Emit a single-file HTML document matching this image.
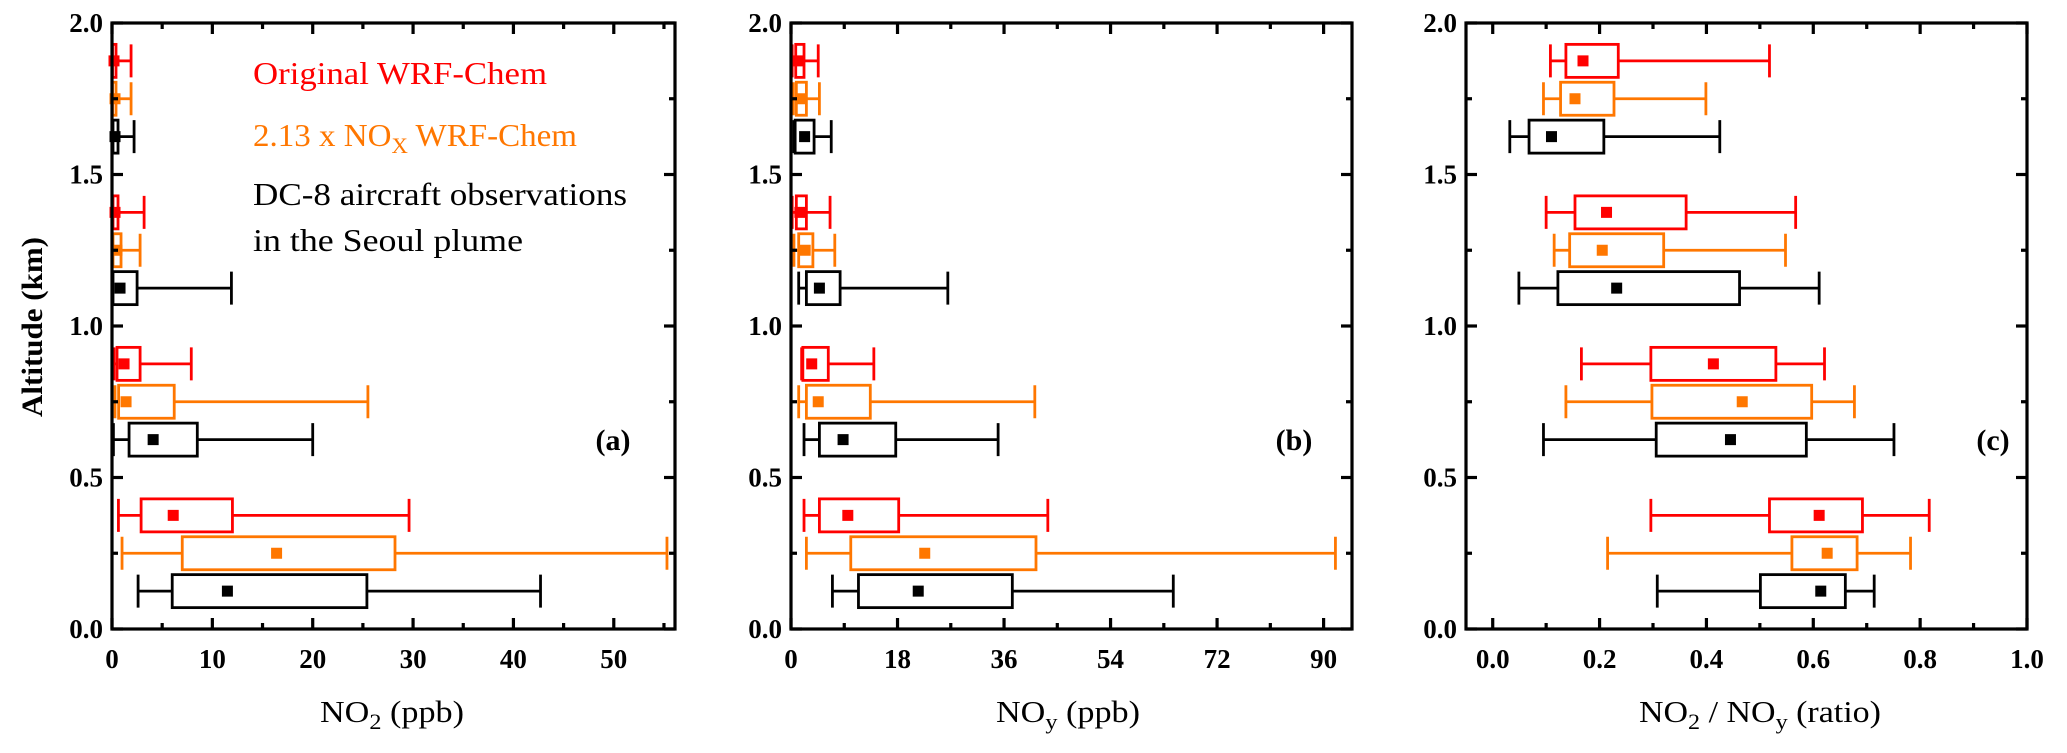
<!DOCTYPE html>
<html><head><meta charset="utf-8"><style>
body{margin:0;background:#fff}
svg{display:block;font-family:"Liberation Serif","DejaVu Serif",serif}
text{font-family:"Liberation Serif","DejaVu Serif",serif}
</style></head><body>
<svg id="chart" width="2067" height="753" font-family="Liberation Serif, serif" xmlns="http://www.w3.org/2000/svg"></svg>
<script>
// altitude positions of rows (km): red, orange, black per group
const altitudes = [1.875,1.75,1.625, 1.375,1.25,1.125, 0.875,0.75,0.625, 0.375,0.25,0.125];
const seriesOrder = ["red","orange","black","red","orange","black","red","orange","black","red","orange","black"];
// each stat: [whiskerLow, q1, mean, q3, whiskerHigh]
const no2Stats = [
 [0.0,0.05,0.2,0.4,1.9],[0.0,0.05,0.3,0.4,1.9],[0.0,0.1,0.3,0.6,2.2],
 [0.0,0.1,0.3,0.6,3.2],[0.0,0.1,0.5,0.9,2.8],[0.0,0.1,0.8,2.5,11.9],
 [0.2,0.5,1.2,2.8,7.9],[0.3,0.66,1.4,6.2,25.5],[0.14,1.7,4.1,8.5,20.0],
 [0.64,2.9,6.1,12.0,29.6],[1.0,7.0,16.4,28.2,55.3],[2.6,6.0,11.5,25.4,42.7]];
const noyStats = [
 [0.2,0.8,1.2,2.2,4.6],[0.4,0.9,1.8,2.6,4.8],[0.5,0.7,2.3,3.9,6.8],
 [0.2,0.9,1.5,2.6,6.6],[0.5,1.3,2.4,3.7,7.4],[1.3,2.6,4.8,8.3,26.5],
 [1.8,2.0,3.5,6.3,14.0],[1.3,2.6,4.6,13.4,41.2],[2.2,4.8,8.8,17.7,35.0],
 [2.2,4.8,9.6,18.2,43.4],[2.6,10.1,22.6,41.4,92.0],[7.0,11.4,21.5,37.4,64.6]];
const ratioStats = [
 [0.108,0.137,0.169,0.235,0.518],[0.095,0.127,0.154,0.227,0.399],[0.032,0.068,0.11,0.208,0.425],
 [0.10,0.154,0.213,0.362,0.567],[0.115,0.144,0.205,0.32,0.548],[0.049,0.122,0.232,0.462,0.611],
 [0.166,0.296,0.413,0.53,0.621],[0.137,0.298,0.467,0.597,0.677],[0.095,0.306,0.445,0.587,0.751],
 [0.296,0.518,0.611,0.692,0.817],[0.215,0.56,0.626,0.682,0.782],[0.308,0.501,0.614,0.66,0.714]];
const aTicks = ["0","10","20","30","40","50"];
const bTicks = ["0","18","36","54","72","90"];
const cTicks = ["0.0","0.2","0.4","0.6","0.8","1.0"];
const yTicks = ["0.0","0.5","1.0","1.5","2.0"];

const colors = {red:"#ff0000",orange:"#ff7700",black:"#000000"};
const NS="http://www.w3.org/2000/svg";
const svg=document.getElementById('chart');
function el(tag,attrs,parent){const e=document.createElementNS(NS,tag);for(const k in attrs)e.setAttribute(k,attrs[k]);(parent||svg).appendChild(e);return e;}
const TOP=23,BOT=629;
function yS(v){return BOT-(v/2)*(BOT-TOP);}
const FF="Liberation Serif, DejaVu Serif, serif";

const panels=[
 {id:"a",L:112,R:675,min:0,max:56.1,stats:no2Stats,ticks:aTicks,major:10,minor:5,label:"(a)",lx:613,title:"NO<tspan font-size='22' dy='7'>2</tspan><tspan dy='-7'> (ppb)</tspan>",tx:392,tl:144},
 {id:"b",L:791,R:1352,min:0,max:94.8,stats:noyStats,ticks:bTicks,major:18,minor:9,label:"(b)",lx:1294,title:"NO<tspan font-size='22' dy='7'>y</tspan><tspan dy='-7'> (ppb)</tspan>",tx:1068,tl:144},
 {id:"c",L:1466,R:2027,min:-0.05,max:1.0,stats:ratioStats,ticks:cTicks,major:0.2,minor:0.1,label:"(c)",lx:1993,title:"NO<tspan font-size='22' dy='7'>2</tspan><tspan dy='-7'> / NO</tspan><tspan font-size='22' dy='7'>y</tspan><tspan dy='-7'> (ratio)</tspan>",tx:1760,tl:242}
];

panels.forEach(p=>{
 const g=el('g',{'font-family':FF});
 
 
 const xS=v=>p.L+(v-p.min)/(p.max-p.min)*(p.R-p.L);
 p.stats.forEach((s,i)=>{
  const c=colors[seriesOrder[i]], y=yS(altitudes[i]), h=33;
  const bg=el('g',{stroke:c,'stroke-width':2.8,fill:'none'},g);
  
  
  el('line',{x1:xS(s[0]),x2:xS(s[1]),y1:y,y2:y},bg);
  el('line',{x1:xS(s[3]),x2:xS(s[4]),y1:y,y2:y},bg);
  el('line',{x1:xS(s[0]),x2:xS(s[0]),y1:y-h/2,y2:y+h/2},bg);
  el('line',{x1:xS(s[4]),x2:xS(s[4]),y1:y-h/2,y2:y+h/2},bg);
  el('rect',{x:xS(s[1]),y:y-h/2,width:Math.max(xS(s[3])-xS(s[1]),1),height:h},bg);
  const m=el('rect',{x:xS(s[2])-5.5,y:y-5.5,width:11,height:11,fill:c,stroke:'none'},bg);
  
  
 });
 const ax=el('g',{stroke:'#000','stroke-width':3.2,fill:'none'},g);
 
 
 el('rect',{x:p.L,y:TOP,width:p.R-p.L,height:BOT-TOP},ax);
 for(let v=Math.ceil(p.min/p.minor-1e-9)*p.minor; v<=p.max+1e-9; v+=p.minor){
  const isMaj=Math.abs(v/p.major-Math.round(v/p.major))<1e-6, len=isMaj?11:6, x=xS(v);
  el('line',{x1:x,x2:x,y1:BOT,y2:BOT-len},ax);
  el('line',{x1:x,x2:x,y1:TOP,y2:TOP+len},ax);
 }
 p.ticks.forEach(t=>{
  const tl=el('text',{x:xS(parseFloat(t)),y:668,'text-anchor':'middle','font-size':27,'font-weight':'bold'},g);
  tl.textContent=t;
  
  
 });
 for(let v=0; v<=2.0001; v+=0.25){
  const isMaj=Math.abs(v*2-Math.round(v*2))<1e-6, len=isMaj?11:6, y=yS(v);
  el('line',{x1:p.L,x2:p.L+len,y1:y,y2:y},ax);
  el('line',{x1:p.R,x2:p.R-len,y1:y,y2:y},ax);
 }
 yTicks.forEach(t=>{
  const tl=el('text',{x:p.L-9,y:yS(parseFloat(t))+9,'text-anchor':'end','font-size':27,'font-weight':'bold'},g);
  tl.textContent=t;
  
  
 });
 const pl=el('text',{x:p.lx,y:450,'text-anchor':'middle','font-size':30,'font-weight':'bold'},g);
 pl.textContent=p.label;
 
 
 const xt=el('text',{x:p.tx,y:722,'text-anchor':'middle','font-size':31,textLength:p.tl,lengthAdjust:'spacingAndGlyphs'},g);
 xt.innerHTML=p.title;
 
 
});
</script>
<script>
(function(){
const NS="http://www.w3.org/2000/svg";const svg=document.getElementById('chart');
function t(x,y,txt,attrs,name){const e=document.createElementNS(NS,'text');e.setAttribute('x',x);e.setAttribute('y',y);e.setAttribute('font-family','Liberation Serif, DejaVu Serif, serif');for(const k in attrs)e.setAttribute(k,attrs[k]);e.innerHTML=txt;


svg.appendChild(e);}
t(42,327,'Altitude (km)',{'font-size':30,'font-weight':'bold','text-anchor':'middle',transform:'rotate(-90 42 327)',textLength:180,lengthAdjust:'spacingAndGlyphs'},'y-axis-title');
t(253,84,'Original WRF-Chem',{'font-size':32,fill:'#ff0000',textLength:294,lengthAdjust:'spacingAndGlyphs'},'legend-original');
t(253,146,'2.13 x NO<tspan font-size="22" dy="7">X</tspan><tspan dy="-7"> WRF-Chem</tspan>',{'font-size':32,fill:'#ff7700',textLength:324,lengthAdjust:'spacingAndGlyphs'},'legend-scaled');
t(253,205,'DC-8 aircraft observations',{'font-size':32,fill:'#000',textLength:374,lengthAdjust:'spacingAndGlyphs'},'legend-observations');
t(253,251,'in the Seoul plume',{'font-size':32,fill:'#000',textLength:270,lengthAdjust:'spacingAndGlyphs'},'legend-observations-line2');
})();
</script>
</body></html>
